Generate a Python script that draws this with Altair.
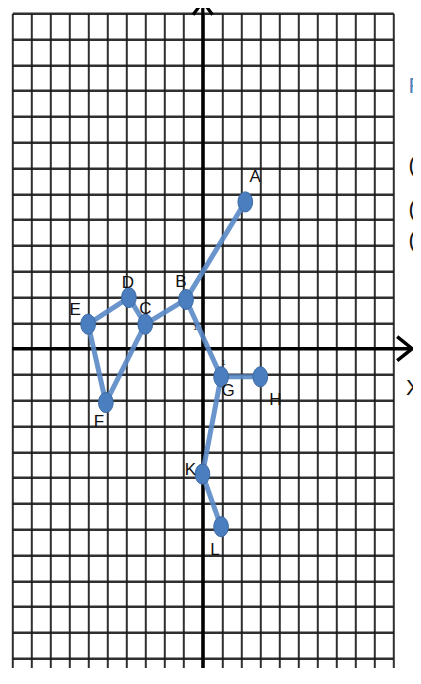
import altair as alt
import pandas as pd

# points (grid units)
names = ["A", "B", "C", "D", "E", "F", "G", "H", "K", "L"]
xs = [2.23, -0.88, -3.02, -3.88, -6.02, -5.09, 0.96, 3.02, -0.02, 0.96]
ys = [5.69, 1.91, 0.95, 1.98, 0.95, -2.09, -1.09, -1.09, -4.86, -6.90]

# segments
edge_from = ["A", "B", "C", "D", "E", "F", "B", "G", "G", "K"]
edge_to = ["B", "C", "D", "E", "F", "C", "G", "H", "K", "L"]

# small stray annotations
small_text = ["1", "1"]
small_x = [-0.40, 1.08]
small_y = [0.80, -0.55]

# cut-off texts at the right edge
edge_text = ["X", "P", "(", "(", "("]
edge_x = [10.67, 10.80, 10.80, 10.80, 10.80]
edge_y = [-1.52, 10.18, 7.12, 5.41, 4.21]
edge_col = ["#111111", "#4f81bd", "#111111", "#111111", "#111111"]

# cut-off axis letter at the top
top_text = ["Y"]
top_x = [-1.09]
top_y = [13.05]

# label offsets in px (style)
label_off = {
    "A": (10, -25), "B": (-5, -17), "C": (0, -15), "D": (-1, -15),
    "E": (-13, -14), "F": (-7, 19), "G": (7, 14), "H": (15, 23),
    "K": (-12, -4), "L": (-6, 23),
}

PX_Y = 25.8
W = 381
PAD_L, PAD_T = 4.3, 5.3
SVG_W, SVG_H = 405, 660
H = SVG_H - PAD_T
ybot = 13 - H / PX_Y

pts = pd.DataFrame({"name": names, "x": xs, "y": ys})
lookup = dict(zip(names, zip(xs, ys)))
edges = pd.DataFrame({
    "x1": [lookup[a][0] for a in edge_from],
    "y1": [lookup[a][1] for a in edge_from],
    "x2": [lookup[b][0] for b in edge_to],
    "y2": [lookup[b][1] for b in edge_to],
})

sx = alt.Scale(domain=[-10, 10], nice=False, zero=False)
sy = alt.Scale(domain=[ybot, 13], nice=False, zero=False)
ax_x = alt.Axis(values=list(range(-10, 11)), grid=True, labels=False, ticks=False,
                domain=False, title=None, gridColor="#1a1a1a", gridWidth=2.0, gridOpacity=0.9)
ax_y = alt.Axis(values=list(range(-12, 14)), grid=True, labels=False, ticks=False,
                domain=False, title=None, gridColor="#1a1a1a", gridWidth=2.6, gridOpacity=0.9)


def X(f):
    return alt.X(f, type="quantitative", scale=sx, axis=ax_x)


def Y(f):
    return alt.Y(f, type="quantitative", scale=sy, axis=ax_y)


# main axes
haxis = pd.DataFrame({"x": [-10.0], "x2": [10.95], "y": [0.0]})
vaxis = pd.DataFrame({"x": [0.0], "y": [ybot], "y2": [13.6]})

h_rule = alt.Chart(haxis).mark_rule(color="#000", strokeWidth=3.5).encode(
    x=X("x"), x2="x2", y=Y("y"))
v_rule = alt.Chart(vaxis).mark_rule(color="#000", strokeWidth=3.2).encode(
    x=X("x"), y=Y("y"), y2="y2")

arrow_up = alt.Chart(pd.DataFrame({"x": [0.0], "y": [13.45]})).mark_point(
    shape="M-0.75,1L0,0L0.75,1", size=676, filled=False, stroke="#000",
    strokeWidth=3.2, opacity=1).encode(x=X("x"), y=Y("y"))
arrow_right = alt.Chart(pd.DataFrame({"x": [10.99], "y": [0.0]})).mark_point(
    shape="M-1,-0.8L0,0L-1,0.8", size=900, filled=False, stroke="#000",
    strokeWidth=3.4, opacity=1).encode(x=X("x"), y=Y("y"))

segs = alt.Chart(edges).mark_rule(color="#5a88c6", strokeWidth=5, opacity=0.9,
                                  strokeCap="round").encode(
    x=X("x1"), y=Y("y1"), x2="x2", y2="y2")

dots = alt.Chart(pts).mark_point(
    shape="M-0.73,0A0.73,1,0,1,0,0.73,0A0.73,1,0,1,0,-0.73,0Z",
    size=400, filled=True, fill="#4a7ebf", stroke="#3c6aa5", strokeWidth=1,
    opacity=1).encode(x=X("x"), y=Y("y"))

FONT = "Liberation Sans Narrow, Liberation Sans, sans-serif"
labels = []
for n in names:
    dx, dy = label_off[n]
    labels.append(
        alt.Chart(pts[pts["name"] == n]).mark_text(
            dx=dx, dy=dy, fontSize=17, font=FONT, color="#111",
            baseline="middle", align="center").encode(
            x=X("x"), y=Y("y"), text="name"))

small = alt.Chart(pd.DataFrame({"t": small_text, "x": small_x, "y": small_y})).mark_text(
    fontSize=8, font=FONT, color="#222", baseline="middle").encode(
    x=X("x"), y=Y("y"), text="t")

edge_df = pd.DataFrame({"t": edge_text, "x": edge_x, "y": edge_y, "c": edge_col})
edge_lbl = alt.Chart(edge_df).mark_text(
    fontSize=22, font=FONT, align="left", baseline="middle").encode(
    x=X("x"), y=Y("y"), text="t", color=alt.Color("c:N", scale=None))

top_lbl = alt.Chart(pd.DataFrame({"t": top_text, "x": top_x, "y": top_y})).mark_text(
    fontSize=22, font=FONT, align="center", baseline="bottom", color="#111").encode(
    x=X("x"), y=Y("y"), text="t")

chart = alt.layer(h_rule, v_rule, arrow_up, arrow_right, segs, dots, *labels,
                  small, edge_lbl, top_lbl).properties(
    width=W, height=H,
    autosize=alt.AutoSizeParams(type="none"),
    padding={"left": PAD_L, "top": PAD_T, "right": SVG_W - PAD_L - W, "bottom": 0},
    background="white",
).configure_view(stroke=None)

chart.save("out.html", embed_options={"renderer": "svg", "actions": False})
